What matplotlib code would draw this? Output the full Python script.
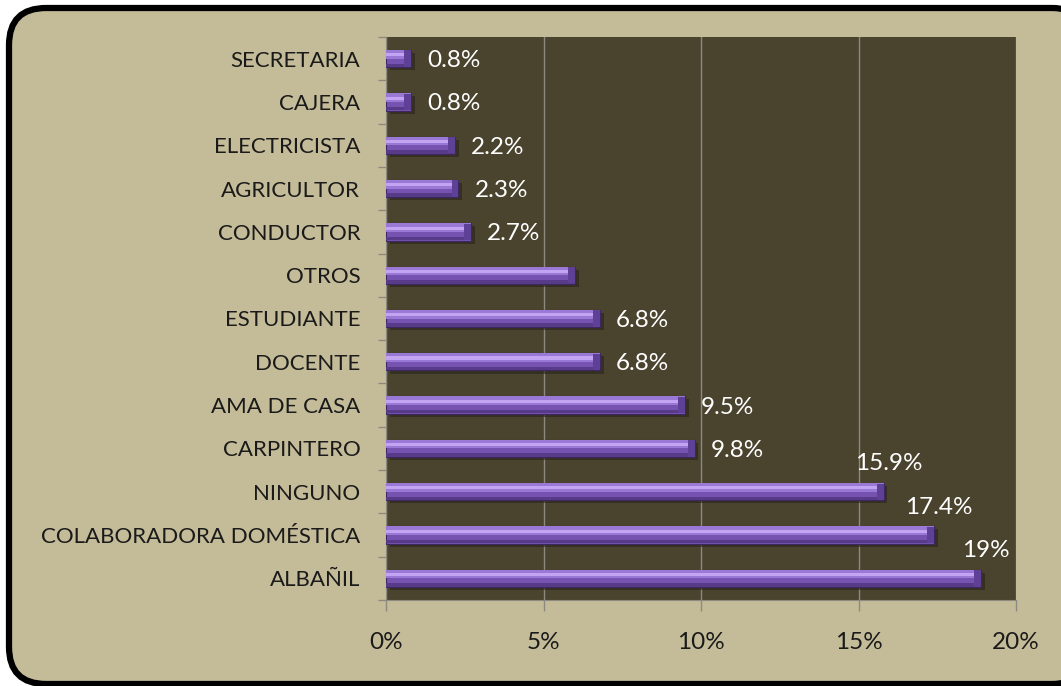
import numpy as np
import matplotlib.pyplot as plt
from matplotlib.patches import FancyBboxPatch
from matplotlib.ticker import FixedLocator, PercentFormatter

# ------------------------------------------------------------------
# Data (bottom to top, as drawn)
# ------------------------------------------------------------------
categories = ["ALBAÑIL", "COLABORADORA DOMÉSTICA", "NINGUNO", "CARPINTERO",
              "AMA DE CASA", "DOCENTE", "ESTUDIANTE", "OTROS", "CONDUCTOR",
              "AGRICULTOR", "ELECTRICISTA", "CAJERA", "SECRETARIA"]
values = [18.9, 17.4, 15.8, 9.8, 9.5, 6.8, 6.8, 6.0, 2.7, 2.3, 2.2, 0.8, 0.8]
value_labels = ["19%", "17.4%", "15.9%", "9.8%", "9.5%", "6.8%", "6.8%", "",
                "2.7%", "2.3%", "2.2%", "0.8%", "0.8%"]
x_ticks = [0, 5, 10, 15, 20]

BG = "#C4BC98"
PLOT_BG = "#4A432E"
GRID = "#8C8A80"
FONT = "Lato"

plt.rcParams["font.family"] = [FONT, "DejaVu Sans"]

fig = plt.figure(figsize=(10.61, 6.86), dpi=100)
fig.patch.set_facecolor("white")

# rounded frame
frame = FancyBboxPatch((9 / 1061, 2 / 686), 1080 / 1061, 676 / 686,
                       boxstyle="round,pad=0,rounding_size=0.035",
                       transform=fig.transFigure, facecolor=BG,
                       edgecolor="black", linewidth=4.5, zorder=-10,
                       mutation_aspect=1061 / 686)
fig.patches.append(frame)

ax = fig.add_axes([386 / 1061, 1 - 600 / 686, 630 / 1061, 563 / 686])
ax.set_facecolor(PLOT_BG)

y = np.arange(len(categories))
h = 0.40

# shadow, body, lower/upper shading bands, end bevel
ax.barh(y - 0.07, values, height=h, left=0.12, color="#28241A", alpha=0.6, zorder=2)
ax.barh(y, values, height=h, color="#7653B0", edgecolor="#3D2760",
        linewidth=0.8, zorder=3)
ax.barh(y + h * 0.25, values, height=h * 0.5, color="#9A78D6", zorder=4)
ax.barh(y + h * 0.22, values, height=h * 0.18, color="#C2A4F2", zorder=4)
ax.barh(y - h * 0.38, values, height=h * 0.2, color="#573A88", zorder=4)
cap = 0.22
ax.barh(y, [cap] * len(values), height=h * 0.95,
        left=[v - cap for v in values], color="#5E4196", zorder=5)

for yi, v, lab in zip(y, values, value_labels):
    if not lab:
        continue
    if v >= 15:
        ax.annotate(lab, (v, yi), xytext=(5, 28), textcoords="offset pixels",
                    ha="center", va="center", color="white", fontsize=17.5,
                    zorder=6)
    else:
        ax.annotate(lab, (v, yi), xytext=(16, -2), textcoords="offset pixels",
                    ha="left", va="center", color="white", fontsize=17.5,
                    zorder=6)

ax.set_xlim(0, 20)
ax.set_ylim(-0.5, len(categories) - 0.5)
ax.xaxis.set_major_locator(FixedLocator(x_ticks))
ax.xaxis.set_major_formatter(PercentFormatter(decimals=0))
ax.grid(axis="x", color=GRID, linewidth=1, zorder=1)
ax.set_axisbelow(True)

ax.set_yticks(y)
ax.set_yticklabels(categories)
ax.yaxis.set_minor_locator(FixedLocator(np.arange(-0.5, len(categories), 1)))
ax.tick_params(axis="y", which="major", length=0, pad=18.5, labelsize=16,
               labelcolor="#1A1A1A")
ax.tick_params(axis="y", which="minor", length=6, color=GRID, width=1)
ax.tick_params(axis="x", length=8, color=GRID, width=1, pad=15, labelsize=17.5,
               labelcolor="#1A1A1A")

for side in ["top", "right"]:
    ax.spines[side].set_visible(False)
ax.spines["left"].set_color(GRID)
ax.spines["bottom"].set_color(GRID)

fig.savefig("out.png", dpi=100, facecolor=fig.get_facecolor())
